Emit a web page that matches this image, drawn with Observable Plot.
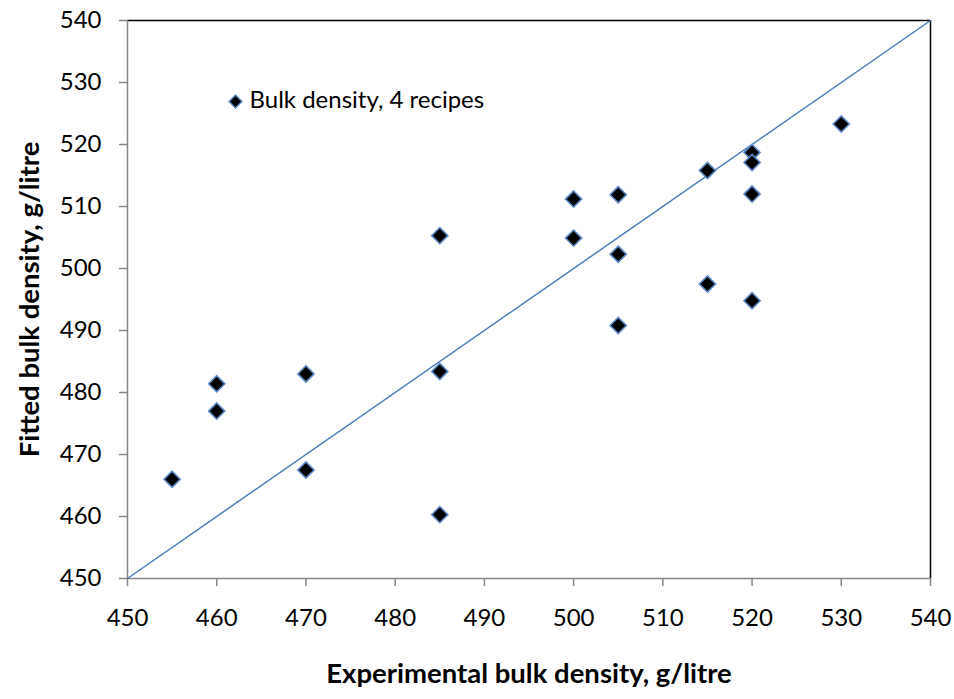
<!DOCTYPE html>
<html>
<head>
<meta charset="utf-8">
<script src="https://cdn.jsdelivr.net/npm/d3@7"></script>
<script src="https://cdn.jsdelivr.net/npm/@observablehq/plot@0.6"></script>
<style>
  html, body { margin: 0; padding: 0; background: #fff; }
  #chart { width: 954px; height: 699px; }
  svg { font-family: Lato, "Open Sans", sans-serif; }
</style>
</head>
<body>
<div id="chart"></div>
<script>
// Experimental (x) vs fitted (y) bulk density, g/litre
const experimental = [455, 460, 460, 470, 470, 485, 485, 485, 500, 500, 505, 505, 505, 515, 515, 520, 520, 520, 520, 530];
const fitted       = [466.0, 481.4, 477.0, 483.0, 467.5, 505.3, 483.4, 460.3, 511.2, 504.9, 511.9, 502.3, 490.8, 515.8, 497.5, 518.7, 517.1, 512.0, 494.8, 523.3];
const parityLine = [450, 540];
const xTicks = [450, 460, 470, 480, 490, 500, 510, 520, 530, 540];
const yTicks = [450, 460, 470, 480, 490, 500, 510, 520, 530, 540];
const legendLabel = ["Bulk density, 4 recipes"];
const xTitle = ["Experimental bulk density, g/litre"];
const yTitle = ["Fitted bulk density, g/litre"];

const points = experimental.map((x, i) => ({x, y: fitted[i]}));
const lineData = parityLine.map(v => ({x: v, y: v}));

const blue = "#4A7EBB";
const markerStroke = "#5B8AC6";
const axisGray = "#868686";

const chart = Plot.plot({
  width: 954,
  height: 699,
  marginLeft: 127,
  marginRight: 24,
  marginTop: 20,
  marginBottom: 121,
  style: {fontFamily: "Lato, 'Open Sans', sans-serif", background: "#fff"},
  x: {domain: [450, 540]},
  y: {domain: [450, 540]},
  marks: [
    // frame: top and right black, left and bottom gray
    Plot.ruleY([parityLine[1]], {stroke: "#000", strokeWidth: 1.5}),
    Plot.ruleX([parityLine[1]], {stroke: "#000", strokeWidth: 1.5}),
    Plot.axisX({ticks: xTicks, tickSize: 8, tickPadding: 22, stroke: axisGray, strokeWidth: 1.5, fontSize: 24, fill: "#000", label: null, tickFormat: d => String(d)}),
    Plot.axisY({ticks: yTicks, tickSize: 8, tickPadding: 18, stroke: axisGray, strokeWidth: 1.5, fontSize: 24, fill: "#000", label: null, tickFormat: d => String(d)}),
    Plot.ruleY([parityLine[0]], {stroke: axisGray, strokeWidth: 1.5}),
    Plot.ruleX([parityLine[0]], {stroke: axisGray, strokeWidth: 1.5}),
    Plot.line(lineData, {x: "x", y: "y", stroke: blue, strokeWidth: 1.5}),
    Plot.dot(points, {x: "x", y: "y", symbol: "diamond2", r: 7.3, fill: "#000", stroke: markerStroke, strokeWidth: 1.6}),
    // legend inside the plot area
    Plot.dot(legendLabel, {frameAnchor: "top-left", dx: 108, dy: 81, symbol: "diamond2", r: 5.8, fill: "#000", stroke: markerStroke, strokeWidth: 1.4}),
    Plot.text(legendLabel, {frameAnchor: "top-left", dx: 122, dy: 80, text: d => d, textAnchor: "start", lineAnchor: "middle", fontSize: 24, fill: "#000"}),
    // axis titles
    Plot.text(xTitle, {frameAnchor: "bottom", dy: 96, text: d => d, textAnchor: "middle", lineAnchor: "middle", fontSize: 27.5, fontWeight: "bold", fill: "#000"}),
    Plot.text(yTitle, {frameAnchor: "left", dx: -97, rotate: -90, text: d => d, textAnchor: "middle", lineAnchor: "middle", fontSize: 27.5, fontWeight: "bold", fill: "#000"})
  ]
});
document.getElementById("chart").appendChild(chart);
</script>
</body>
</html>
